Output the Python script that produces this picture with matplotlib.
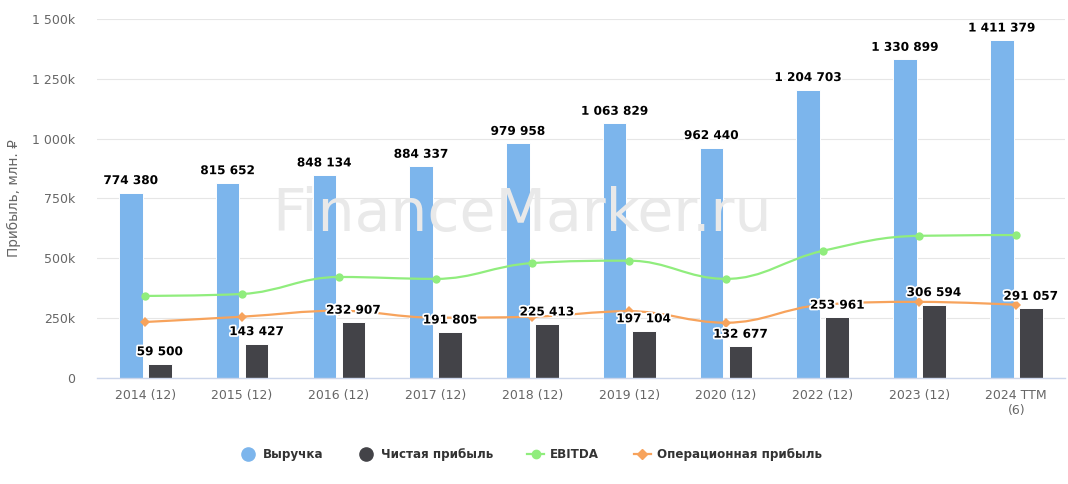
import numpy as np
import matplotlib.pyplot as plt
import matplotlib.patheffects as pe
from matplotlib.path import Path
from matplotlib.patches import PathPatch
from matplotlib.lines import Line2D
from matplotlib.ticker import FuncFormatter

categories = ["2014 (12)", "2015 (12)", "2016 (12)", "2017 (12)", "2018 (12)",
              "2019 (12)", "2020 (12)", "2022 (12)", "2023 (12)", "2024 TTM\n(6)"]
revenue = [774380, 815652, 848134, 884337, 979958, 1063829, 962440, 1204703, 1330899, 1411379]
net_profit = [59500, 143427, 232907, 191805, 225413, 197104, 132677, 253961, 306594, 291057]
ebitda = [343000, 351000, 422000, 414000, 480000, 490000, 414000, 531000, 594000, 597000]
op_profit = [234000, 256000, 281000, 252000, 256000, 279000, 231000, 306000, 318000, 306000]

C_REV = "#7cb5ec"
C_NET = "#434348"
C_EBITDA = "#90ed7d"
C_OP = "#f7a35c"


def spline_path(xs, ys, smoothing=1.5):
    """ Highcharts-like spline through the points """
    n = len(xs)
    left = [None] * n
    right = [None] * n
    for i in range(1, n - 1):
        x, y = xs[i], ys[i]
        lx, ly = xs[i - 1], ys[i - 1]
        nx, ny = xs[i + 1], ys[i + 1]
        d = smoothing + 1
        lcx = (smoothing * x + lx) / d
        lcy = (smoothing * y + ly) / d
        rcx = (smoothing * x + nx) / d
        rcy = (smoothing * y + ny) / d
        corr = 0
        if rcx != lcx:
            corr = (rcy - lcy) * (rcx - x) / (rcx - lcx) + y - rcy
        lcy += corr
        rcy += corr
        if lcy > ly and lcy > y:
            lcy = max(ly, y)
            rcy = 2 * y - lcy
        elif lcy < ly and lcy < y:
            lcy = min(ly, y)
            rcy = 2 * y - lcy
        if rcy > ny and rcy > y:
            rcy = max(ny, y)
            lcy = 2 * y - rcy
        elif rcy < ny and rcy < y:
            rcy = min(ny, y)
            lcy = 2 * y - rcy
        left[i] = (lcx, lcy)
        right[i] = (rcx, rcy)
    verts = [(xs[0], ys[0])]
    codes = [Path.MOVETO]
    for i in range(1, n):
        c1 = right[i - 1] if right[i - 1] else (xs[i - 1], ys[i - 1])
        c2 = left[i] if left[i] else (xs[i], ys[i])
        verts += [c1, c2, (xs[i], ys[i])]
        codes += [Path.CURVE4] * 3
    return Path(verts, codes)


def fmt(v):
    return f"{v:,}".replace(",", " ")


fig = plt.figure(figsize=(10.68, 4.84), dpi=100)
ax = fig.add_axes([0.0908, 0.219, 0.906, 0.742])

# watermark behind everything
fig.text(0.489, 0.556, "FinanceMarker.ru", fontsize=42, color="#e9e9e9",
         ha="center", va="center", zorder=0)
ax.set_facecolor("none")

x = np.arange(len(categories))
bw = 0.245
ax.bar(x - 0.15, revenue, width=bw, color=C_REV, edgecolor="white", linewidth=0.7, zorder=2)
ax.bar(x + 0.15, net_profit, width=bw, color=C_NET, edgecolor="white", linewidth=0.7, zorder=2)

for vals, col, mk, ms in [(ebitda, C_EBITDA, "o", 6.0), (op_profit, C_OP, "D", 4.8)]:
    ax.add_patch(PathPatch(spline_path(list(x), vals), fill=False, edgecolor=col,
                           linewidth=1.6, zorder=3, capstyle="round"))
    ax.plot(x, vals, linestyle="none", marker=mk, markersize=ms, color=col,
            markeredgewidth=0, zorder=4)

outline = [pe.withStroke(linewidth=2.5, foreground="white")]

for i in range(len(categories)):
    ax.annotate(fmt(revenue[i]), (x[i] - 0.15, revenue[i]), xytext=(0, 4),
                textcoords="offset points", ha="center", va="bottom",
                fontsize=8.7, fontweight="bold", color="black",
                path_effects=outline, zorder=6)
    ax.annotate(fmt(net_profit[i]), (x[i] + 0.15, net_profit[i]), xytext=(0, 4),
                textcoords="offset points", ha="center", va="bottom",
                fontsize=8.7, fontweight="bold", color="black",
                path_effects=outline, zorder=6)

ax.set_xlim(-0.5, len(categories) - 0.5)
ax.set_ylim(0, 1500000)
ax.set_yticks(np.arange(0, 1500001, 250000))
ax.yaxis.set_major_formatter(FuncFormatter(
    lambda v, p: "0" if v == 0 else fmt(int(v // 1000)) + "k"))
ax.set_xticks(x)
ax.set_xticklabels(categories)
ax.tick_params(axis="both", length=0, labelsize=9, colors="#666666")
ax.tick_params(axis="x", pad=8)
ax.tick_params(axis="y", pad=16)
ax.grid(axis="y", color="#e6e6e6", linewidth=0.8, zorder=1)
ax.set_axisbelow(True)
for s in ["top", "right", "left"]:
    ax.spines[s].set_visible(False)
ax.spines["bottom"].set_color("#ccd6eb")
ax.spines["bottom"].set_linewidth(1.0)
ax.spines["bottom"].set_zorder(5)
ax.set_ylabel("Прибыль, млн. ₽", fontsize=9.8, color="#666666", labelpad=8)

handles = [
    Line2D([], [], linestyle="none", marker="o", markersize=9.5, color=C_REV),
    Line2D([], [], linestyle="none", marker="o", markersize=9.5, color=C_NET),
    Line2D([], [], color=C_EBITDA, linewidth=1.6, marker="o", markersize=6),
    Line2D([], [], color=C_OP, linewidth=1.6, marker="D", markersize=4.8),
]
labels = ["Выручка", "Чистая прибыль", "EBITDA", "Операционная прибыль"]
leg = fig.legend(handles, labels, loc="center", bbox_to_anchor=(0.497, 0.06), ncol=4,
                 frameon=False, prop={"size": 8.6, "weight": "bold"},
                 handlelength=1.4, handletextpad=0.5, columnspacing=2.9)
for t in leg.get_texts():
    t.set_color("#333333")

fig.savefig("out.png", dpi=100)
